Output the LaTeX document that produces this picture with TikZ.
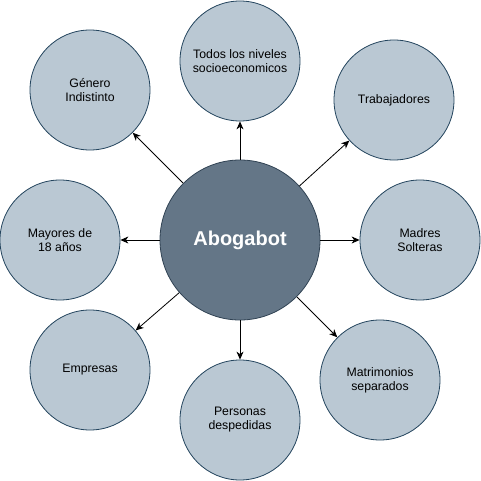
\documentclass[tikz,border=0pt]{standalone}
\usepackage{fontspec}
\setmainfont{Liberation Sans}
\usetikzlibrary{arrows.meta}

\definecolor{hubfill}{HTML}{647687}
\definecolor{hubline}{HTML}{314354}
\definecolor{leaffill}{HTML}{BAC8D3}
\definecolor{leafline}{HTML}{23445D}

\tikzset{
  hub/.style={circle, draw=hubline, fill=hubfill, line width=0.8pt, minimum size=160pt,
              inner sep=0pt, text=white, font=\fontsize{20}{24}\selectfont\bfseries},
  leaf/.style={circle, draw=leafline, fill=leaffill, line width=0.8pt, minimum size=120pt,
               inner sep=0pt, align=center, font=\fontsize{12.3}{14}\selectfont},
  link/.style={line width=0.8pt, -{Stealth[length=8pt,width=7pt,inset=2.5pt]}}
}

\begin{document}
\begin{tikzpicture}[x=1pt,y=-1pt]
   \useasboundingbox (0,0) rectangle (481,481);
   \node[hub] (abogabot) at (240,240) {Abogabot};
   \foreach \n/\x/\y/\t in {todos/240/61/{Todos los niveles\\socioeconomicos},
                            genero/90/90/{Género\\Indistinto},
                            trabajadores/394/100/Trabajadores,
                            madres/420/240/{Madres\\Solteras},
                            mayores/60/240/{Mayores de\\18 años},
                            empresas/90/370/Empresas,
                            personas/240/420/{Personas\\despedidas},
                            matrimonios/380/380/{Matrimonios\\separados}}
   {
    \node[leaf] (\n) at (\x,\y) {\t};
    \draw[link] (abogabot) -- (\n);
   }
 \end{tikzpicture}
\end{document}
